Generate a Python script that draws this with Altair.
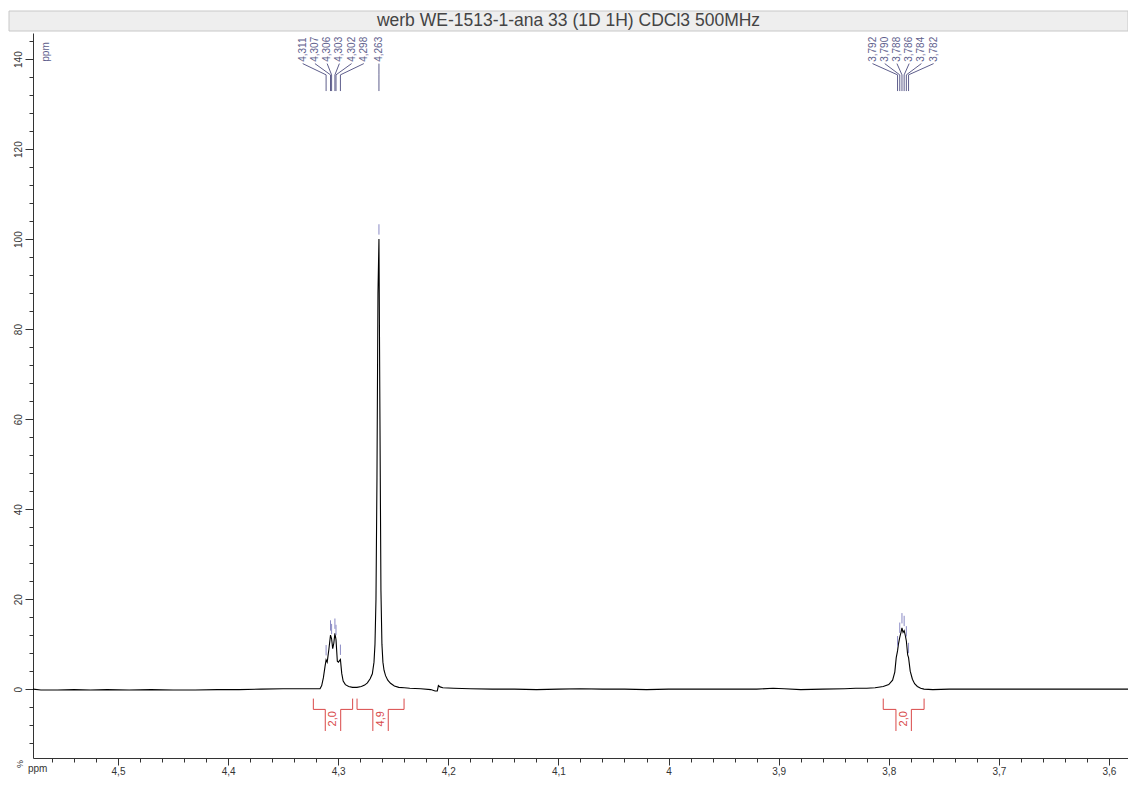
import altair as alt
import pandas as pd

TITLE = "werb WE-1513-1-ana 33 (1D 1H) CDCl3 500MHz"

# spectrum trace (ppm, intensity %)
spec_ppm = [
    4.5772, 4.5700, 4.5550, 4.5400, 4.5250, 4.5100, 4.4900, 4.4700, 4.4500, 4.4300,
    4.4100, 4.3900, 4.3700, 4.3500, 4.3300, 4.3200,
    4.3165, 4.3150, 4.3135, 4.3120, 4.3110, 4.3100, 4.3085, 4.3070, 4.3060, 4.3050,
    4.3040, 4.3030, 4.3020, 4.3008, 4.2998, 4.2980, 4.2968, 4.2955, 4.2935, 4.2905,
    4.2870, 4.2830, 4.2790, 4.2760, 4.2735, 4.2710, 4.2690, 4.2675, 4.2666, 4.2657,
    4.2648, 4.2639, 4.2630, 4.2621, 4.2612, 4.2603, 4.2594, 4.2584, 4.2570, 4.2550,
    4.2525, 4.2490, 4.2450, 4.2400,
    4.2350, 4.2250, 4.2160, 4.2120, 4.2100, 4.2090, 4.2075, 4.2050, 4.1950, 4.1800,
    4.1600, 4.1400, 4.1200, 4.1000, 4.0800, 4.0600, 4.0400, 4.0200, 4.0000, 3.9800,
    3.9500, 3.9200, 3.9050, 3.8950, 3.8800, 3.8600, 3.8400, 3.8300, 3.8200,
    3.8124, 3.8050, 3.8000, 3.7965, 3.7945, 3.7932, 3.7920, 3.7912, 3.7900, 3.7890,
    3.7880, 3.7870, 3.7860, 3.7850, 3.7840, 3.7828, 3.7820, 3.7805, 3.7785, 3.7765,
    3.7740, 3.7710, 3.7680, 3.7600, 3.7450, 3.7300, 3.7000, 3.6500, 3.6000, 3.5827,
]
spec_int = [
    0.0, -0.2, -0.2, -0.1, -0.2, -0.1, -0.2, -0.1, -0.2, -0.2,
    -0.1, -0.1, 0.0, 0.1, 0.1, 0.1,
    0.1, 0.8, 2.5, 5.0, 6.5, 6.0, 8.8, 12.0, 11.2, 9.0,
    10.2, 12.4, 11.0, 6.2, 6.0, 6.6, 3.5, 1.8, 1.0, 0.6,
    0.4, 0.4, 0.6, 0.9, 1.4, 2.3, 3.4, 6.0, 10.0, 20.0,
    47.0, 88.0, 100.0, 60.0, 22.0, 10.0, 6.0, 4.2, 3.0, 2.0,
    1.3, 0.7, 0.4, 0.3,
    0.2, 0.1, -0.1, -0.4, -0.4, 0.8, 0.5, 0.3, 0.2, 0.1,
    0.0, 0.0, -0.1, 0.0, 0.1, 0.0, 0.0, -0.1, 0.0, 0.0,
    0.0, 0.0, 0.2, 0.1, -0.1, 0.0, 0.1, 0.2, 0.2,
    0.3, 0.6, 1.0, 2.0, 3.8, 7.0, 8.5, 10.0, 11.5, 12.5,
    13.6, 12.6, 13.0, 12.0, 10.7, 7.6, 7.0, 4.0, 2.2, 1.2,
    0.6, 0.2, 0.0, -0.1, 0.0, 0.0, 0.0, 0.0, 0.0, 0.0,
]

# picked peaks
peak_ppm = [4.311, 4.307, 4.306, 4.303, 4.302, 4.298, 4.263,
            3.792, 3.790, 3.788, 3.786, 3.784, 3.782]
peak_height = [6.5, 12.0, 11.2, 12.4, 11.0, 6.6, 100.0,
               8.5, 11.5, 13.6, 13.0, 10.7, 7.0]
peak_group = [0, 0, 0, 0, 0, 0, 1, 2, 2, 2, 2, 2, 2]

# integrals
int_start = [4.3226, 4.2829, 3.8050]
int_end = [4.2869, 4.2402, 3.7679]
int_label = ["2,0", "4,9", "2,0"]

X_DOMAIN = [3.5827, 4.5772]
Y_DOMAIN = [-15.3, 145.8]
FONT = "Liberation Sans"
AX = "#333333"
LABEL_COLOR = "#5e5e8c"
TICK_COLOR = "#8a8ac4"
RED = "#d94848"
W, H = 1095, 725

xscale = alt.Scale(domain=X_DOMAIN, reverse=True, nice=False, zero=False)
yscale = alt.Scale(domain=Y_DOMAIN, nice=False, zero=False)

x_ticks = [round(3.60 + 0.02 * i, 2) for i in range(49)]
y_ticks = list(range(-12, 145, 4))
MAJX = "abs(datum.value*10 - round(datum.value*10)) < 0.000001"
MAJY = "datum.value % 20 == 0"

xaxis = alt.Axis(
    values=x_ticks,
    labelExpr=f"{MAJX} ? replace(format(datum.value, '.1~f'), '.', ',') : ''",
    tickSize={"condition": {"test": MAJX, "value": 7}, "value": 4},
    labelFont=FONT, labelFontSize=10, labelColor=AX,
    domainColor=AX, tickColor=AX, title=None, grid=False,
    labelPadding=1, labelOverlap=False, labelFlush=False,
)
yaxis = alt.Axis(
    values=y_ticks,
    labelExpr=f"datum.value >= 0 && {MAJY} ? '' + datum.value : ''",
    tickSize={"condition": {"test": MAJY, "value": 8}, "value": 4},
    labelAngle=270, labelAlign="center", labelBaseline="bottom",
    labelFont=FONT, labelFontSize=10, labelColor=AX,
    domainColor=AX, tickColor=AX, title=None, grid=False,
    labelPadding=2, labelOverlap=False, labelFlush=False,
)

XA = lambda f: alt.X(f, type="quantitative", scale=xscale, axis=xaxis)
YA = lambda f: alt.Y(f, type="quantitative", scale=yscale, axis=yaxis)
Yd = lambda v: alt.YDatum(v, type="quantitative", scale=yscale, axis=yaxis)

spec_df = pd.DataFrame({"ppm": spec_ppm, "inten": spec_int})

# peak label table
rows = []
SPACING = 0.0111
for g in sorted(set(peak_group)):
    idx = [i for i, gg in enumerate(peak_group) if gg == g]
    c = sum(peak_ppm[i] for i in idx) / len(idx)
    n = len(idx)
    for k, i in enumerate(idx):
        rows.append({
            "ppm": peak_ppm[i],
            "lx": c + ((n - 1) / 2 - k) * SPACING,
            "h1": peak_height[i] + 1.0,
            "h2": peak_height[i] + 3.3,
            "txt": f"{peak_ppm[i]:.3f}".replace(".", ","),
        })
peak_df = pd.DataFrame(rows)

# integral bracket segments
segs = []
labs = []
HALF = 0.007
for s, e, lab in zip(int_start, int_end, int_label):
    c = (s + e) / 2
    a, b = c + HALF, c - HALF
    segs += [
        {"x": s, "x2": s, "y": -2.1, "y2": -4.5},
        {"x": s, "x2": a, "y": -4.5, "y2": -4.5},
        {"x": a, "x2": a, "y": -4.5, "y2": -9.3},
        {"x": b, "x2": b, "y": -9.3, "y2": -4.5},
        {"x": b, "x2": e, "y": -4.5, "y2": -4.5},
        {"x": e, "x2": e, "y": -4.5, "y2": -2.1},
    ]
    labs.append({"x": c, "lab": lab})
seg_df = pd.DataFrame(segs)
lab_df = pd.DataFrame(labs)

title_df = pd.DataFrame({"t": [TITLE]})

title_box = alt.Chart(title_df).mark_rect(fill="#eeeeee", stroke="#c8c8c8", strokeWidth=1).encode(
    x=alt.value(-24), x2=alt.value(W), y=alt.value(-22), y2=alt.value(-2))
title_txt = alt.Chart(title_df).mark_text(font=FONT, fontSize=17.5, color="#444444",
                                          align="center", baseline="middle").encode(
    x=alt.value((W - 24) / 2), y=alt.value(-12), text="t:N")

line = alt.Chart(spec_df).mark_line(color="black", strokeWidth=1.1).encode(
    x=XA("ppm"), y=YA("inten"))

ticks = alt.Chart(peak_df).mark_rule(color=TICK_COLOR, strokeWidth=1).encode(
    x=XA("ppm"), y=YA("h1"), y2="h2")
slant = alt.Chart(peak_df).mark_rule(color=LABEL_COLOR, strokeWidth=1).encode(
    x=XA("lx"), x2="ppm", y=Yd(139.0), y2=alt.datum(136.5))
vert = alt.Chart(peak_df).mark_rule(color=LABEL_COLOR, strokeWidth=1).encode(
    x=XA("ppm"), y=Yd(136.5), y2=alt.datum(132.9))
ptxt = alt.Chart(peak_df).mark_text(angle=270, align="left", baseline="middle",
                                    font=FONT, fontSize=10, color=LABEL_COLOR).encode(
    x=XA("lx"), y=Yd(139.4), text="txt:N")

integ = alt.Chart(seg_df).mark_rule(color=RED, strokeWidth=1).encode(
    x=XA("x"), x2="x2", y=YA("y"), y2="y2")
itxt = alt.Chart(lab_df).mark_text(angle=270, align="center", baseline="middle",
                                   font=FONT, fontSize=11, color=RED).encode(
    x=XA("x"), y=Yd(-6.6), text="lab:N")

misc_df = pd.DataFrame({"t": ["ppm"]})
ppm_top = alt.Chart(misc_df).mark_text(angle=270, align="center", baseline="middle",
                                       font=FONT, fontSize=10, color=LABEL_COLOR).encode(
    x=alt.value(13), y=alt.value(19), text="t:N")
ppm_bot = alt.Chart(misc_df).mark_text(align="left", baseline="middle",
                                       font=FONT, fontSize=10, color=AX).encode(
    x=alt.value(-5), y=alt.value(H + 11), text="t:N")
pct = alt.Chart(pd.DataFrame({"t": ["%"]})).mark_text(angle=270, align="center", baseline="middle",
                                                    font=FONT, fontSize=9, color=AX).encode(
    x=alt.value(-13), y=alt.value(H + 6), text="t:N")

chart = alt.layer(
    title_box, title_txt, line, integ, itxt, ticks, slant, vert, ptxt, ppm_top, ppm_bot, pct
).properties(
    width=W, height=H,
    padding={"left": 25, "top": 25, "right": 0, "bottom": 19},
    autosize=alt.AutoSizeParams(type="none"),
    background="white",
).configure_view(stroke=None)

chart.save("out.html", embed_options={"renderer": "svg", "actions": False})
